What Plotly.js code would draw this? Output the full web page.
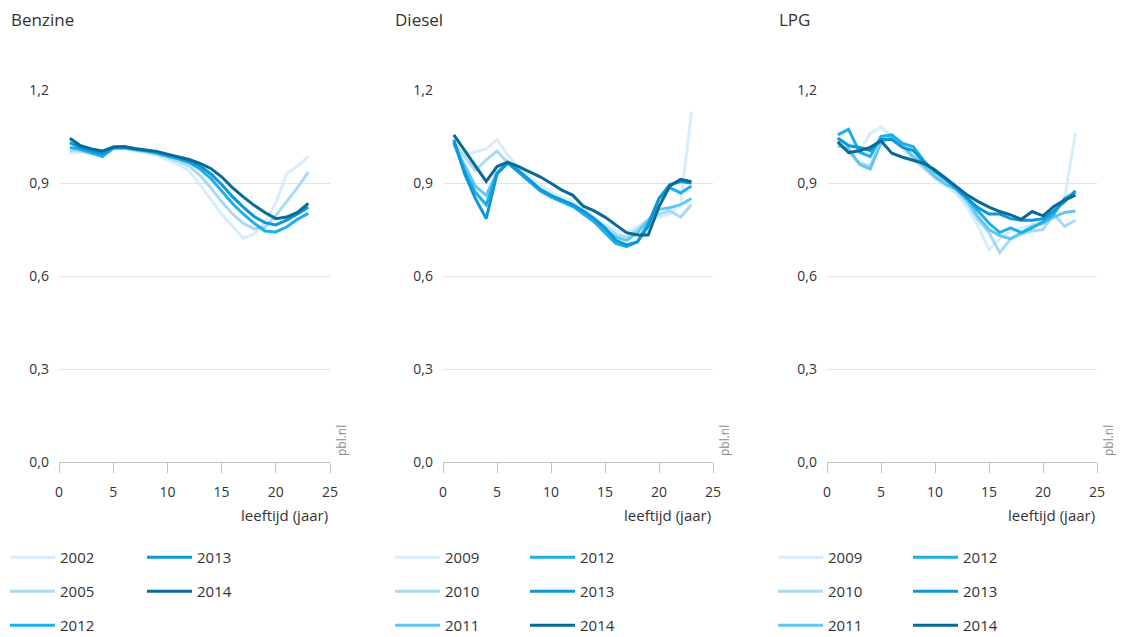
<!DOCTYPE html>
<html><head><meta charset="utf-8">
<script src="https://cdn.plot.ly/plotly-3.0.1.min.js"></script>
<style>html,body{margin:0;padding:0;background:#fff}#chart{width:1121px;height:637px}</style>
</head><body><div id="chart"></div>
<script>
// ---- data ----
const ages = [1,2,3,4,5,6,7,8,9,10,11,12,13,14,15,16,17,18,19,20,21,22,23];
const xTicks = [0,5,10,15,20,25];
const yTicks = [0,0.3,0.6,0.9,1.2];
const panelTitles = ['Benzine','Diesel','LPG'];
const xAxisTitle = 'leeftijd (jaar)';
const sourceLabel = 'pbl.nl';

const benzineYears = ['2002','2005','2012','2013','2014'];
const benzine2002 = [0.995,1.0,0.995,0.99,1.01,1.012,1.005,0.998,0.99,0.975,0.96,0.94,0.895,0.847,0.8,0.762,0.722,0.735,0.775,0.835,0.93,0.955,0.985];
const benzine2005 = [1.005,1.003,0.995,0.99,1.012,1.012,1.006,1.0,0.993,0.982,0.97,0.955,0.925,0.885,0.84,0.8,0.77,0.752,0.757,0.795,0.84,0.885,0.935];
const benzine2012 = [1.015,1.008,0.997,0.985,1.012,1.014,1.008,1.004,0.997,0.988,0.978,0.966,0.945,0.915,0.875,0.834,0.8,0.77,0.745,0.742,0.758,0.783,0.802];
const benzine2013 = [1.03,1.013,1.003,0.995,1.015,1.016,1.01,1.005,1.0,0.99,0.982,0.97,0.955,0.93,0.895,0.856,0.822,0.792,0.772,0.765,0.78,0.8,0.822];
const benzine2014 = [1.044,1.02,1.01,1.003,1.016,1.018,1.011,1.006,1.002,0.993,0.985,0.976,0.963,0.947,0.92,0.885,0.855,0.828,0.805,0.785,0.79,0.805,0.834];

const dieselYears = ['2009','2010','2011','2012','2013','2014'];
const diesel2009 = [1.02,0.99,1.0,1.01,1.04,0.99,0.95,0.92,0.895,0.87,0.855,0.84,0.815,0.79,0.765,0.745,0.74,0.76,0.78,0.79,0.8,0.83,1.13];
const diesel2010 = [1.03,0.985,0.94,0.975,1.003,0.965,0.935,0.905,0.88,0.86,0.845,0.83,0.81,0.785,0.76,0.735,0.725,0.75,0.78,0.8,0.81,0.79,0.83];
const diesel2011 = [1.025,0.955,0.89,0.86,0.935,0.965,0.935,0.905,0.875,0.855,0.84,0.825,0.805,0.78,0.75,0.725,0.715,0.74,0.78,0.815,0.82,0.83,0.85];
const diesel2012 = [1.03,0.94,0.87,0.83,0.93,0.965,0.935,0.905,0.875,0.855,0.84,0.825,0.8,0.775,0.74,0.705,0.695,0.71,0.77,0.85,0.885,0.868,0.89];
const diesel2013 = [1.04,0.93,0.85,0.785,0.93,0.965,0.94,0.91,0.88,0.86,0.845,0.83,0.81,0.785,0.755,0.715,0.7,0.71,0.76,0.85,0.895,0.905,0.9];
const diesel2014 = [1.055,1.006,0.955,0.905,0.953,0.967,0.953,0.937,0.92,0.899,0.877,0.861,0.825,0.81,0.79,0.765,0.74,0.732,0.732,0.824,0.89,0.912,0.904];

const lpgYears = ['2009','2010','2011','2012','2013','2014'];
const lpg2009 = [1.04,1.03,1.0,1.06,1.08,1.05,1.01,0.975,0.945,0.915,0.89,0.865,0.82,0.76,0.685,0.72,0.745,0.755,0.765,0.78,0.81,0.85,1.06];
const lpg2010 = [1.03,1.0,0.965,0.955,1.03,1.05,1.02,0.98,0.95,0.92,0.9,0.875,0.835,0.78,0.74,0.675,0.72,0.735,0.745,0.75,0.8,0.76,0.78];
const lpg2011 = [1.02,1.01,0.96,0.945,1.03,1.05,1.02,0.985,0.955,0.92,0.895,0.88,0.845,0.79,0.75,0.73,0.72,0.74,0.76,0.77,0.79,0.805,0.81];
const lpg2012 = [1.055,1.073,1.0,0.985,1.05,1.055,1.028,1.017,0.97,0.935,0.91,0.88,0.85,0.81,0.77,0.74,0.755,0.74,0.755,0.775,0.8,0.85,0.87];
const lpg2013 = [1.045,1.02,1.015,1.005,1.04,1.04,1.015,1.005,0.965,0.94,0.915,0.885,0.85,0.82,0.8,0.8,0.785,0.78,0.78,0.785,0.81,0.84,0.875];
const lpg2014 = [1.033,0.998,1.004,1.015,1.036,0.996,0.983,0.974,0.963,0.942,0.915,0.888,0.861,0.84,0.822,0.808,0.797,0.783,0.808,0.794,0.824,0.845,0.861];

// ---- styling ----
const yearColors = {'2002':'#d6edfa','2009':'#d6edfa','2005':'#a9daf3','2010':'#a9daf3','2011':'#62c6f0','2012':'#1cb0ea','2013':'#0c97d6','2014':'#0a6a95'};
const W = 1121, H = 637;
const FONT = 'Open Sans, Noto Sans, sans-serif';
const TXT = '#333333';

const panels = [
  {years: benzineYears, series: [benzine2002,benzine2005,benzine2012,benzine2013,benzine2014], x0: 59, x1: 330, split: 3, legX: [5,142]},
  {years: dieselYears, series: [diesel2009,diesel2010,diesel2011,diesel2012,diesel2013,diesel2014], x0: 443, x1: 713, split: 3, legX: [390,525]},
  {years: lpgYears, series: [lpg2009,lpg2010,lpg2011,lpg2012,lpg2013,lpg2014], x0: 827, x1: 1097, split: 3, legX: [773,908]}
];

const traces = [];
const layout = {
  width: W, height: H,
  margin: {l:0, r:0, t:0, b:0, autoexpand: false},
  paper_bgcolor: '#fff', plot_bgcolor: '#fff',
  separators: ',.',
  font: {family: FONT, color: TXT, size: 14},
  annotations: [],
  showlegend: true
};

let legIdx = 1;
panels.forEach((p, i) => {
  const xa = i === 0 ? 'x' : 'x' + (i+1);
  const ya = i === 0 ? 'y' : 'y' + (i+1);
  const xKey = i === 0 ? 'xaxis' : 'xaxis' + (i+1);
  const yKey = i === 0 ? 'yaxis' : 'yaxis' + (i+1);
  layout[xKey] = {
    domain: [p.x0/W, p.x1/W], range: [0,25], anchor: ya,
    tickvals: xTicks, ticks: 'outside', ticklen: 10, tickcolor: '#c4c4c4', tickwidth: 1,
    showline: true, linecolor: '#c4c4c4', linewidth: 1,
    showgrid: false, zeroline: false, fixedrange: true,
    ticklabelstandoff: 7, automargin: false,
    tickfont: {size: 14, color: TXT, family: FONT}
  };
  layout[yKey] = {
    domain: [(H-462)/H, (H-90)/H], range: [0,1.2], anchor: xa,
    tickvals: yTicks, tickformat: '.1f', ticks: '',
    showgrid: true, gridcolor: '#e2e2e2', gridwidth: 1,
    zeroline: false, showline: false, fixedrange: true,
    ticklabelstandoff: 9, automargin: false,
    tickfont: {size: 14, color: TXT, family: FONT}
  };
  const legA = legIdx === 1 ? 'legend' : 'legend' + legIdx;
  const legB = 'legend' + (legIdx+1);
  [legA, legB].forEach((lk, j) => {
    layout[lk] = {
      x: p.legX[j]/W, xanchor: 'left', y: 1 - 541/H, yanchor: 'top',
      orientation: 'v', bgcolor: 'rgba(0,0,0,0)', borderwidth: 0,
      font: {size: 15, color: TXT, family: FONT}, tracegroupgap: 11.5, traceorder: 'grouped',
      itemwidth: 45, itemclick: false, itemdoubleclick: false
    };
  });
  legIdx += 2;
  p.years.forEach((yr, k) => {
    traces.push({
      type: 'scatter', mode: 'lines', x: ages, y: p.series[k],
      xaxis: xa, yaxis: ya, name: yr,
      legend: k < p.split ? legA : legB,
      legendgroup: 'p' + i + '_' + yr,
      line: {color: yearColors[yr], width: 3},
      hoverinfo: 'x+y+name'
    });
  });
  layout.annotations.push({
    text: panelTitles[i], xref: 'paper', yref: 'paper',
    x: (p.x0 - 50)/W, y: 1 - 20/H, xanchor: 'left', yanchor: 'middle',
    showarrow: false, font: {size: 17, color: TXT, family: FONT}
  });
  layout.annotations.push({
    text: xAxisTitle, xref: 'paper', yref: 'paper',
    x: p.x1/W, y: 1 - 515/H, xanchor: 'right', yanchor: 'middle',
    showarrow: false, font: {size: 15, color: TXT, family: FONT}
  });
  layout.annotations.push({
    text: sourceLabel, xref: 'paper', yref: 'paper',
    x: (p.x1 + 11)/W, y: 1 - 441/H, xanchor: 'center', yanchor: 'middle',
    textangle: -90, showarrow: false, font: {size: 12, color: '#8a8a8a', family: FONT}
  });
});

Plotly.newPlot('chart', traces, layout, {displayModeBar: false});
</script>
</body></html>
